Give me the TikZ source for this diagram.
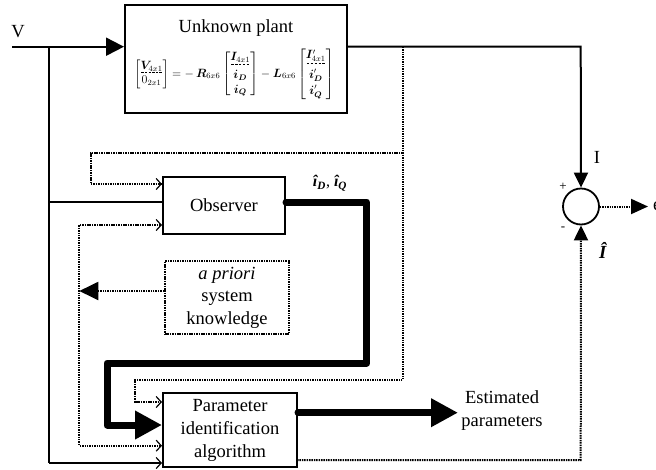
\documentclass[tikz,border=0pt]{standalone}
\usepackage{amsmath}
\usepackage{bm}
\usepackage{fontspec}
\setmainfont{Liberation Serif}
\usetikzlibrary{arrows.meta}
\newcommand{\dashfill}[1]{\makebox[#1]{\xleaders\hbox to 3.5pt{\hss\rule[0.5ex]{2.4pt}{0.9pt}\hss}\hfill}}
\begin{document}
\begin{tikzpicture}[x=1pt,y=-1pt,
  sol/.style={line width=2pt},
  dotln/.style={line width=2pt, dash pattern=on 1.5pt off 0.9pt},
  thk/.style={line width=7pt, line join=round, line cap=round},
  blk/.style={draw, line width=2pt, inner sep=0pt},
  lbl/.style={font=\fontsize{18.5}{23}\selectfont, inner sep=0pt, align=center},
  bigtip/.style={-{Triangle[length=18pt,width=18pt]}},
  thktip/.style={-{Triangle[length=27pt,width=27pt]}},
  midtip/.style={-{Triangle[length=15pt,width=14pt]}},
  opentip/.style={-{Straight Barb[length=5pt,width=11pt,line width=1.2pt]}},
  bothopen/.style={{Straight Barb[length=5pt,width=11pt,line width=1.2pt]}-{Straight Barb[length=5pt,width=11pt,line width=1.2pt]}},
]
\useasboundingbox (0,0) rectangle (656,469);
% boxes
\node[blk, minimum width=222pt, minimum height=108pt] (plant) at (236,59) {};
\node[lbl] (ptitle) at (236,28) {Unknown plant};
\node[font=\fontsize{12}{14}\selectfont, inner sep=0pt] (peq) at (234,74) {\renewcommand{\arraystretch}{0.95}$\left[\begin{array}{@{}c@{}}\bm V_{4x1}\\[-7pt]\dashfill{22pt}\\[-5pt]0_{2x1}\end{array}\right] = -\,\bm R_{6x6}\left[\begin{array}{@{}c@{}}\bm I_{4x1}\\[-6pt]\dashfill{20pt}\\[-2pt]\bm i_{\bm D}\\[1pt]\bm i_{\bm Q}\end{array}\right] - \bm L_{6x6}\left[\begin{array}{@{}c@{}}\bm I'_{4x1}\\[-5pt]\dashfill{20pt}\\[-2pt]\bm i'_{\bm D}\\[3pt]\bm i'_{\bm Q}\end{array}\right]$};
\node[blk, lbl, minimum width=122pt, minimum height=57pt] (obs) at (224,205.5) {Observer};
\node[blk, lbl, dotln, font=\fontsize{18.5}{22.5}\selectfont, minimum width=124pt, minimum height=73pt] (prior) at (227,297.5) {\textit{a priori}\\system\\knowledge};
\node[blk, lbl, minimum width=134pt, minimum height=74pt] (param) at (230,430) {Parameter\\identification\\algorithm};
\node[draw, circle, line width=1.8pt, minimum size=36pt, inner sep=0pt] (sum) at (581,206.5) {};
% coordinates
\coordinate (vin) at (12,46.7);
\coordinate (vj) at (48.7,46.7);
\coordinate (vbot) at (48.7,463);
\coordinate (vobs) at (48.7,202.3);
\coordinate (pj) at (402.7,46.7);
\coordinate (pcorner) at (580.7,46.7);
\coordinate (dj) at (402.7,153);
\coordinate (d1) at (90.7,153);
\coordinate (d2) at (90.7,184);
\coordinate (d3) at (402.7,380);
\coordinate (d4) at (135,380);
\coordinate (d5) at (135,402);
\coordinate (e1) at (79.3,225);
\coordinate (e2) at (79.3,445.7);
\coordinate (eprior) at (79.3,291);
\coordinate (t0) at (286,202);
\coordinate (t1) at (366.7,202);
\coordinate (t2) at (366.7,363);
\coordinate (t3) at (107,363);
\coordinate (t4) at (107,425);
\coordinate (o1) at (298,412.7);
\coordinate (o2) at (458,412.7);
\coordinate (f1) at (297,460);
\coordinate (f2) at (580.7,460);
\coordinate (sout) at (648,206.5);
% connectors
\draw[sol,bigtip] (vin) -- (vin -| plant.west);
\draw[sol] (vj) -- (vbot);
\draw[sol,opentip] (vbot) -- (vbot -| param.west);
\draw[sol] (vobs) -- (vobs -| obs.west);
\draw[sol,midtip] (plant.east |- vin) -- (pcorner) -- (sum.north);
\draw[dotln,opentip] (pj) -- (d3) -- (d4) -- (d5) -- (d5 -| param.west);
\draw[dotln,opentip] (dj) -- (d1) -- (d2) -- (d2 -| obs.west);
\draw[dotln,bothopen] (e1 -| obs.west) -- (e1) -- (e2) -- (e2 -| param.west);
\draw[dotln,-{Triangle[length=19pt,width=18pt]}] (eprior -| prior.west) -- (eprior);
\draw[thk,thktip] (t0) -- (t1) -- (t2) -- (t3) -- (t4) -- (t4 -| param.west);
\draw[thk,thktip] (o1) -- (o2);
\draw[dotln,midtip] (f1) -- (f2) -- (sum.south);
\draw[dotln,-{Triangle[length=17pt,width=15pt]}] (sum.east) -- (sout);
% labels
\node[lbl] (vlab) at (18,32) {V};
\node[lbl] (ilab) at (597,157) {I};
\node[font=\fontsize{13}{13}\selectfont, inner sep=0pt] (plus) at (563,187) {+};
\node[font=\fontsize{13}{13}\selectfont, inner sep=0pt] (minus) at (563,229) {-};
\node[lbl] (ihat) at (603,250) {\textbf{\textit{Î}}};
\node[font=\fontsize{16}{16}\selectfont, inner sep=0pt] (idq) at (330,183) {\textbf{\textit{î\textsubscript{D}}}, \textbf{\textit{î\textsubscript{Q}}}};
\node[lbl] (est) at (502,411) {Estimated\\parameters};
\node[lbl, anchor=west] (elab) at (653,206.5) {e};
\end{tikzpicture}
\end{document}
